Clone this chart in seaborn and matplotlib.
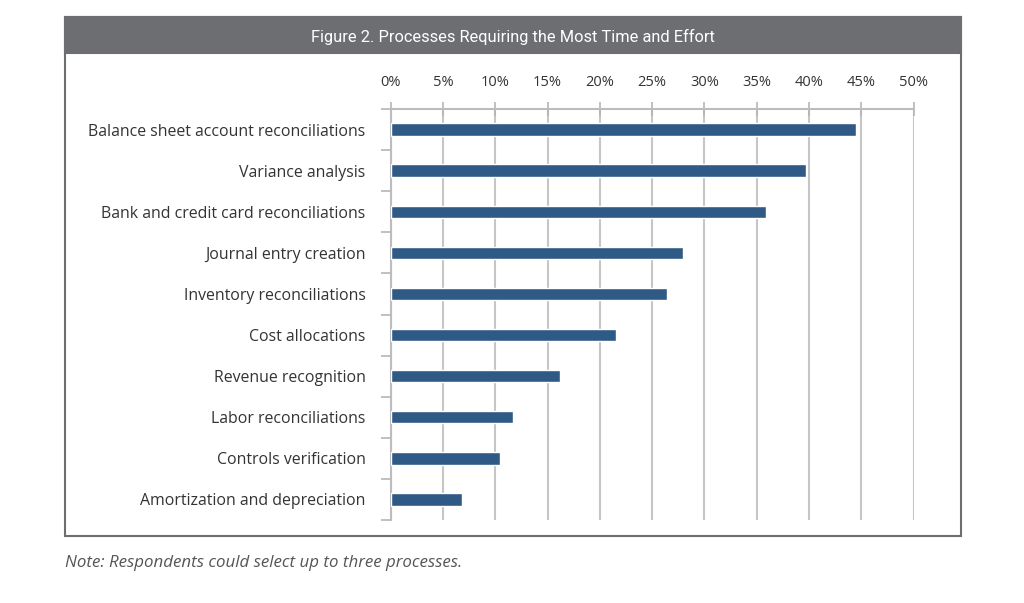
import matplotlib
matplotlib.use("Agg")
import matplotlib.pyplot as plt
import seaborn as sns
import pandas as pd
from matplotlib.patches import Rectangle
from matplotlib.ticker import FixedLocator

categories = [
    "Balance sheet account reconciliations",
    "Variance analysis",
    "Bank and credit card reconciliations",
    "Journal entry creation",
    "Inventory reconciliations",
    "Cost allocations",
    "Revenue recognition",
    "Labor reconciliations",
    "Controls verification",
    "Amortization and depreciation",
]
values = [44.5, 39.7, 35.9, 28.0, 26.4, 21.5, 16.2, 11.7, 10.5, 6.8]
x_ticks = [0, 5, 10, 15, 20, 25, 30, 35, 40, 45, 50]
x_tick_labels = [f"{t}%" for t in x_ticks]
title = "Figure 2. Processes Requiring the Most Time and Effort"
note = "Note: Respondents could select up to three processes."

sns.set_theme(style="white")
plt.rcParams["font.family"] = ["Open Sans", "DejaVu Sans"]

fig = plt.figure(figsize=(10.24, 6.03), dpi=100)
W, H = 1024, 603

def fx(px):
    return px / W

def fy(py):
    return 1 - py / H

# outer box
fig.patches.append(Rectangle((fx(65), fy(536)), fx(961) - fx(65), fy(17) - fy(536),
                             transform=fig.transFigure, fill=False,
                             edgecolor="#6d6e71", linewidth=1.5, zorder=0))
# title band
fig.patches.append(Rectangle((fx(65), fy(53)), fx(961) - fx(65), fy(17) - fy(53),
                             transform=fig.transFigure, facecolor="#6d6e71",
                             edgecolor="#6d6e71", linewidth=1.5, zorder=1))
fig.text(fx(513), fy(37), title, ha="center", va="center", color="white",
         fontsize=11.8, family=["Roboto", "DejaVu Sans"], zorder=2)
fig.text(fx(65), fy(563), note, ha="left", va="center", color="#555555",
         fontsize=12.2, style="italic")

ax = fig.add_axes([fx(390.7), fy(520), fx(913.5) - fx(390.7), fy(109) - fy(520)])

df = pd.DataFrame({"category": categories, "value": values})
sns.barplot(data=df, x="value", y="category", orient="h", color="#2f5a86",
            width=0.3, saturation=1, ax=ax, zorder=3)

ax.set_xlim(0, 50)
ax.set_ylim(9.5, -0.5)
ax.set_xlabel("")
ax.set_ylabel("")

ax.xaxis.set_ticks_position("top")
ax.xaxis.set_label_position("top")
ax.set_xticks(x_ticks)
ax.set_xticklabels(x_tick_labels)
ax.tick_params(axis="x", which="major", direction="inout", length=10, width=1.2,
               color="#b5b5b5", labelsize=10.5, labelcolor="#333333", pad=9)
ax.grid(axis="x", color="#c6c6c6", linewidth=1.5, zorder=0)
ax.set_axisbelow(True)

ax.tick_params(axis="y", which="major", length=0, labelsize=11.4,
               labelcolor="#333333", pad=18)
ax.yaxis.set_minor_locator(FixedLocator([i - 0.5 for i in range(len(categories) + 1)]))
ax.tick_params(axis="y", which="minor", left=True, direction="out", length=7,
               width=1.2, color="#b5b5b5")

for side in ["right", "bottom"]:
    ax.spines[side].set_visible(False)
for side in ["left", "top"]:
    ax.spines[side].set_visible(True)
    ax.spines[side].set_color("#bdbdbd")
    ax.spines[side].set_linewidth(1.5)

fig.savefig("out.png", dpi=100, facecolor="white")
